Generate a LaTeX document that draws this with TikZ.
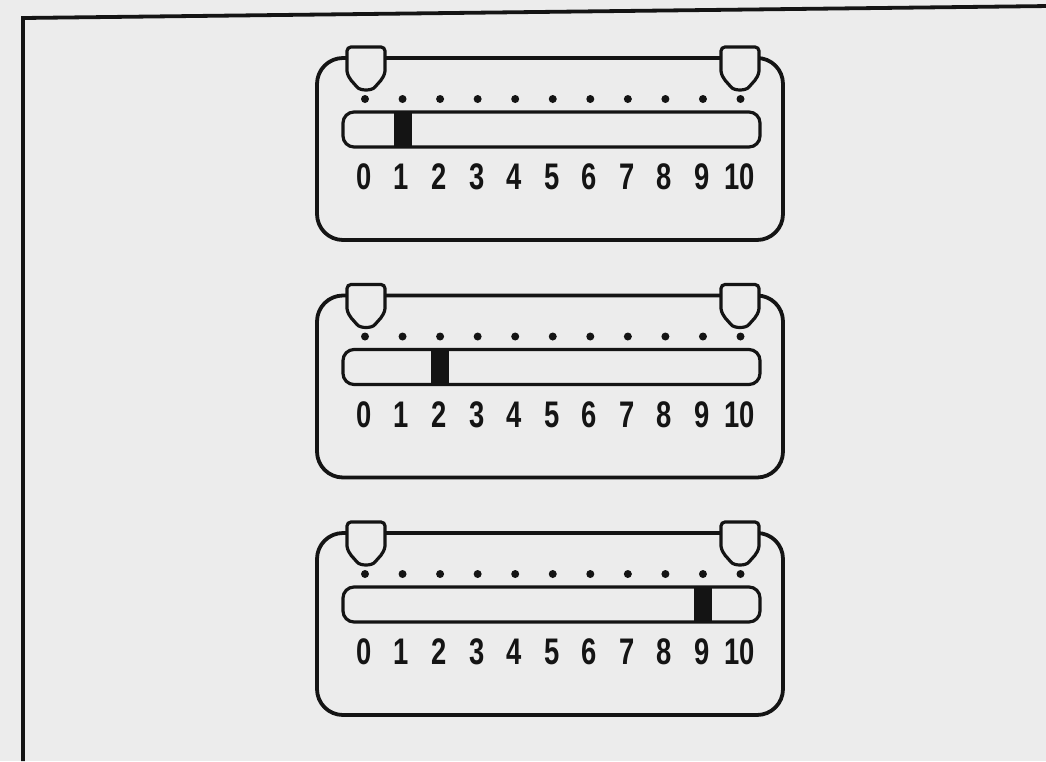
\documentclass[tikz,border=0pt]{standalone}
\usepackage{fontspec}
\setmainfont{Liberation Sans}
\definecolor{paper}{RGB}{236,236,236}
\definecolor{ink}{RGB}{20,20,20}
\tikzset{
  panelbox/.style={draw=ink, line width=3.8pt, rounded corners=26pt},
  trackbox/.style={draw=ink, line width=3.2pt, fill=paper, rounded corners=11pt},
  capshape/.style={draw=ink, line width=3.2pt, fill=paper},
  marker/.style={fill=ink, draw=none},
  tickdot/.style={circle, fill=ink, inner sep=0pt, minimum size=8pt},
  digit/.style={font=\bfseries\fontsize{37}{40}\selectfont, text=ink, inner sep=0pt},
  framebox/.style={draw=ink, line width=3.8pt}
}
\begin{document}
\begin{tikzpicture}[x=1pt, y=-1pt]
\useasboundingbox (0,0) rectangle (1046,761);
\fill[paper] (0,0) rectangle (1046,761);
% outer frame
\coordinate (fbl) at (23,761);
\coordinate (ftl) at (23,18);
\coordinate (ftr) at (1050,6);
\draw[framebox] (fbl) -- (ftl) -- (ftr);
\foreach \p/\v in {0/1,1/2,2/9}{
  \begin{scope}[shift={(0,\p*237.5)}]
    \draw[panelbox] (317,58) rectangle (783,240);
    \path (317,58) rectangle (783,240) node[pos=0.5, inner sep=0pt] (outer\p) {};
    % caps
    \foreach \c/\s in {366/l,740/r}{
      \draw[capshape] (\c-19,71) -- (\c-19,53) [rounded corners=4pt] -- (\c-19,47) -- (\c+19,47) [sharp corners] -- (\c+19,53) -- (\c+19,71)
        .. controls (\c+18,79) and (\c+12,83) .. (\c+9,87)
        .. controls (\c+6,91) and (\c-6,91) .. (\c-9,87)
        .. controls (\c-12,83) and (\c-18,79) .. (\c-19,71) -- cycle;
      \node[inner sep=0pt] (cap\p\s) at (\c,68) {};
    }
    % dots
    \foreach \i in {0,...,10}{
      \node[tickdot] (dot\p-\i) at (365+37.55*\i, 99) {};
    }
    % track
    \draw[trackbox] (343,112) rectangle (760,147);
    \path (343,112) rectangle (760,147) node[pos=0.5, inner sep=0pt] (bar\p) {};
    \fill[marker] (365+37.55*\v-9,113.3) rectangle (365+37.55*\v+9,145.7);
    \node[inner sep=0pt] (mark\p) at (365+37.55*\v,129.5) {};
    % numbers
    \foreach \i in {0,...,10}{
      \node[digit] (n\p-\i) at (364+37.55*\i, 177) {\scalebox{0.74}[1]{\i}};
    }
  \end{scope}
}
\end{tikzpicture}
\end{document}
